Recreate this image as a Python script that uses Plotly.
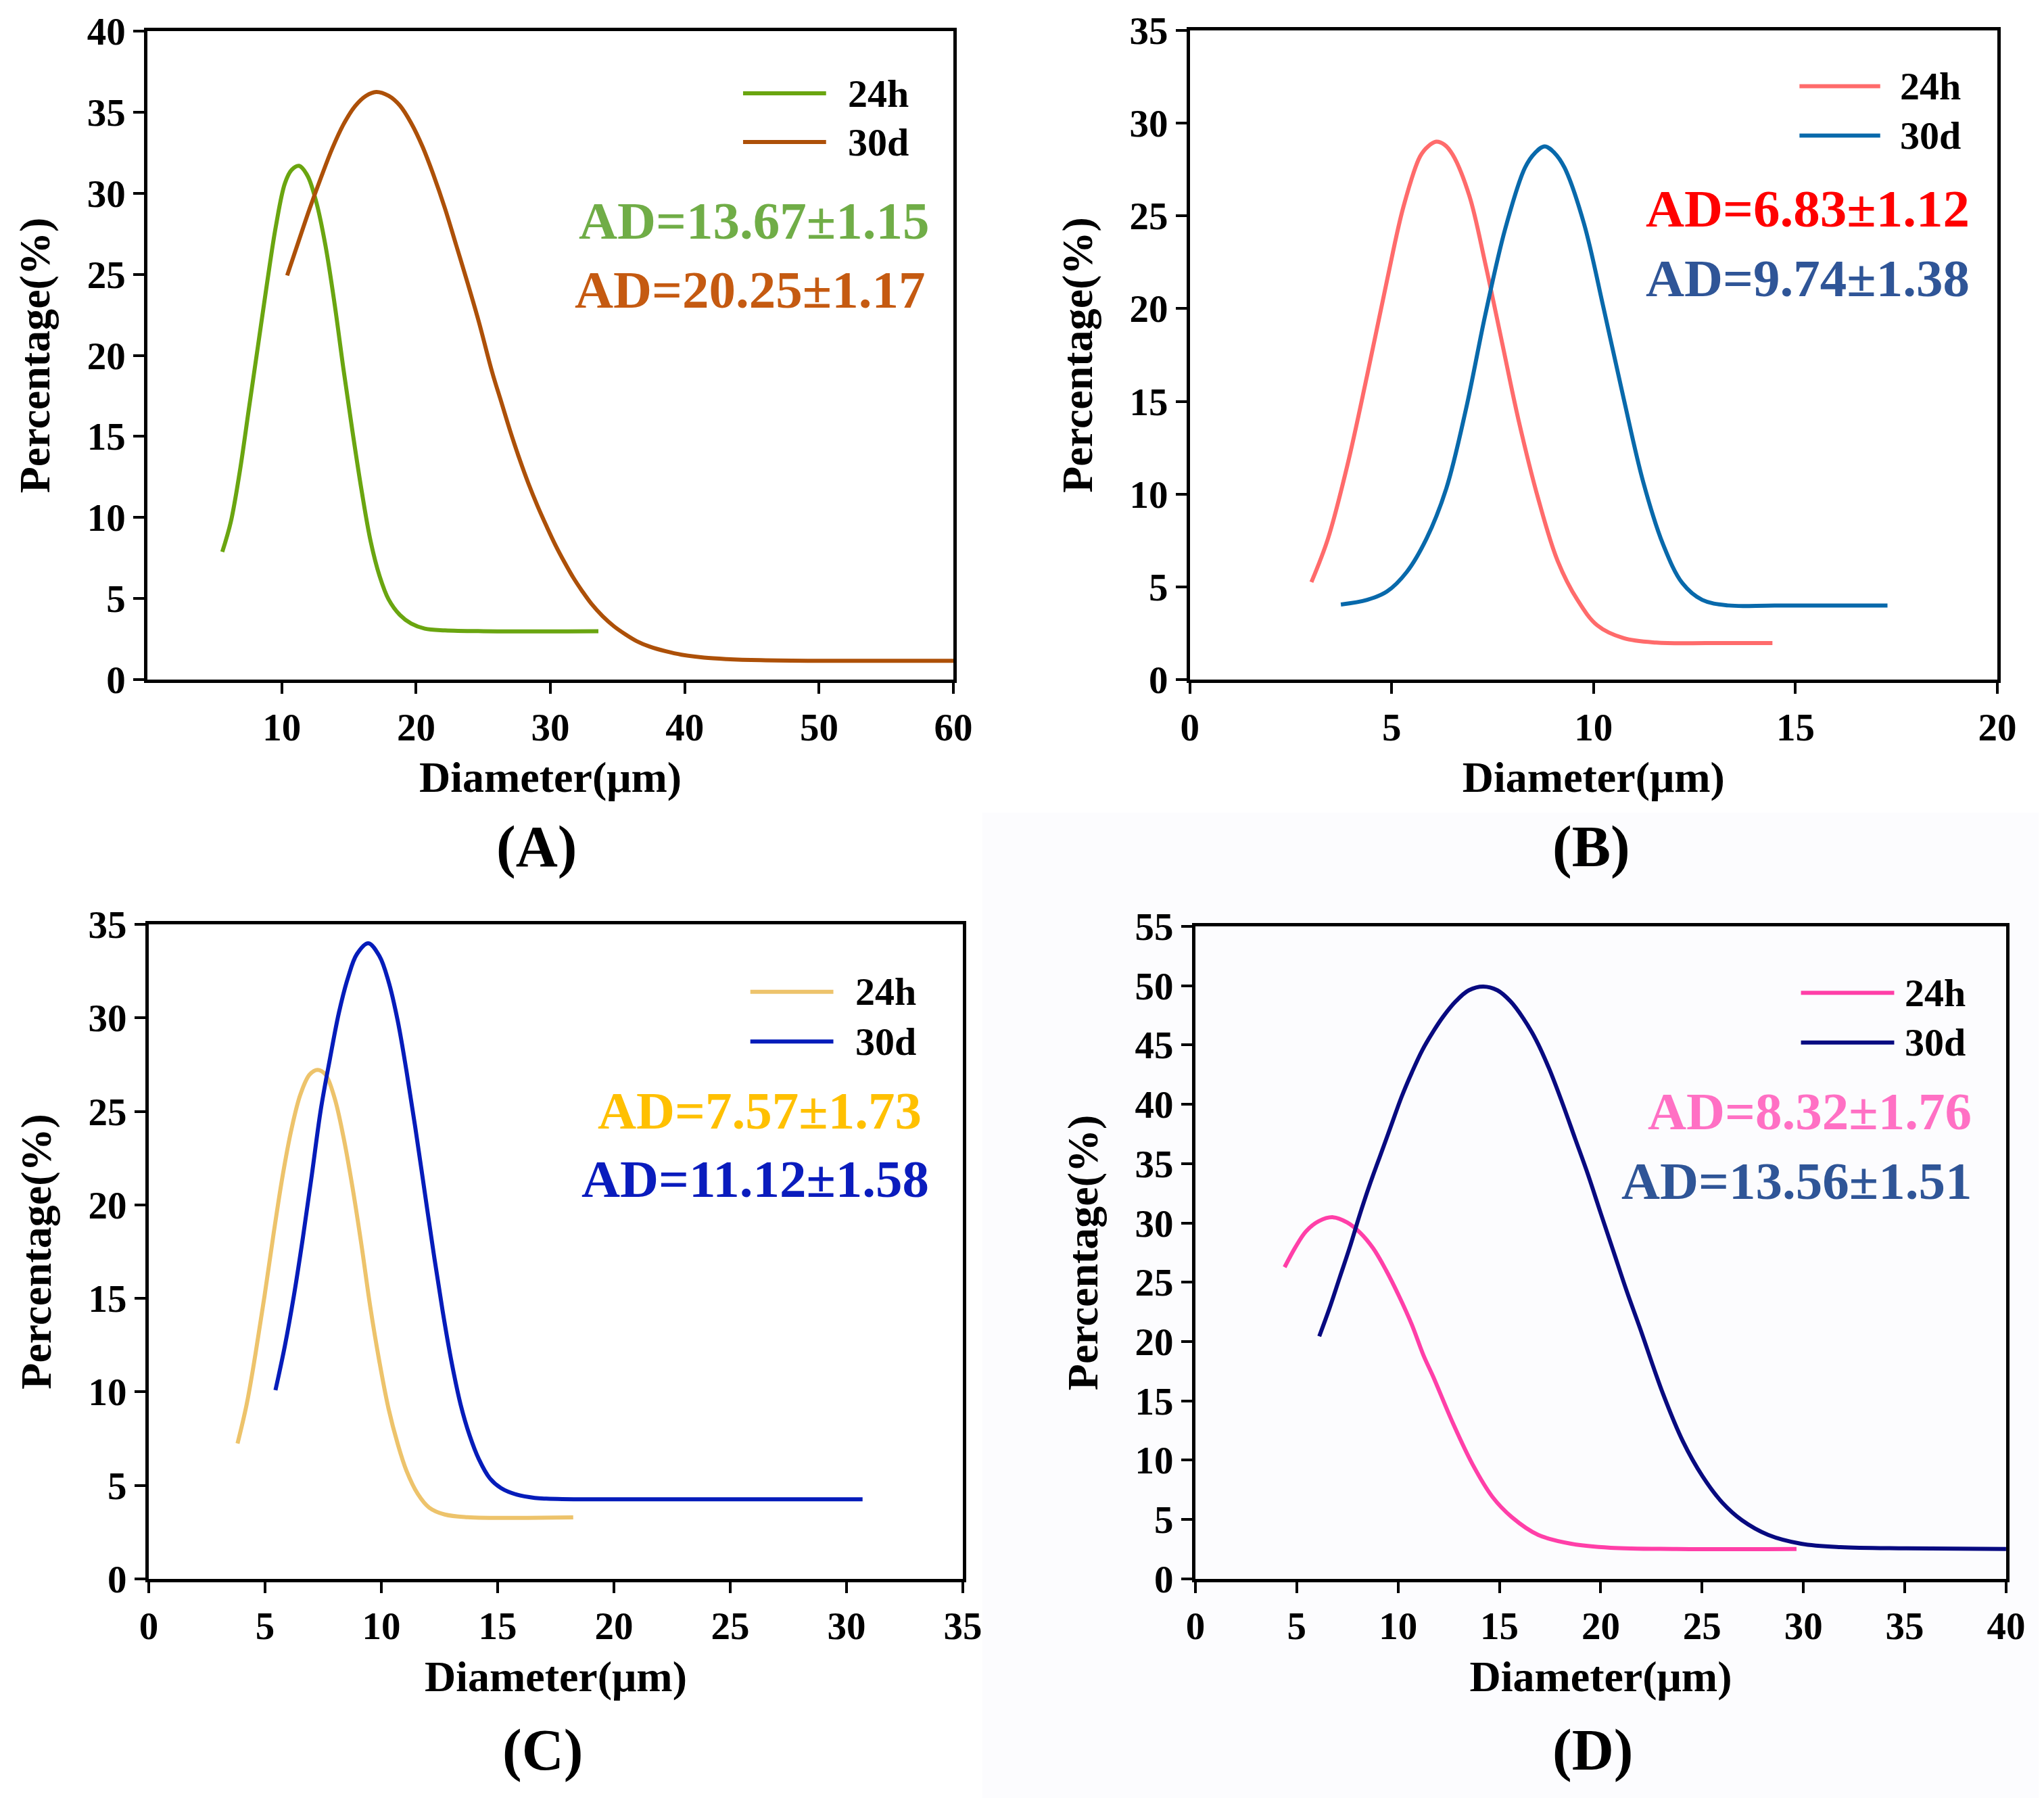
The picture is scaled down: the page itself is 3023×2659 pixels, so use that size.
import plotly.graph_objects as go

# ---------------- data ----------------
A_24h_x = [5.57, 6.21, 6.88, 7.55, 8.22, 8.89, 9.56, 10.23, 10.74, 11.29, 11.91, 12.58, 13.25, 13.93, 14.6, 15.27, 15.94, 16.61, 17.28, 17.95, 18.79, 19.63, 20.64, 22.15, 25.0, 33.57]
A_24h_y = [7.88, 9.75, 12.87, 16.71, 20.54, 24.38, 27.97, 30.61, 31.45, 31.69, 31.09, 29.42, 26.78, 23.18, 19.1, 15.27, 11.67, 8.55, 6.39, 4.95, 3.99, 3.46, 3.15, 3.04, 2.99, 2.99]
A_30d_x = [10.4, 11.24, 12.08, 12.92, 13.76, 14.6, 15.44, 16.27, 17.03, 17.95, 18.79, 19.63, 20.47, 21.31, 22.15, 22.99, 23.82, 24.66, 25.67, 26.34, 27.01, 27.68, 28.35, 29.03, 29.7, 30.37, 31.04, 31.71, 32.38, 33.05, 33.89, 34.73, 35.57, 36.41, 37.41, 38.59, 39.76, 41.44, 43.12, 45.64, 49.83, 60.0]
A_30d_y = [24.93, 27.01, 29.06, 30.97, 32.77, 34.26, 35.36, 36.01, 36.25, 36.01, 35.41, 34.33, 32.89, 31.09, 29.06, 26.78, 24.5, 22.1, 18.94, 17.13, 15.32, 13.65, 12.12, 10.73, 9.48, 8.3, 7.25, 6.28, 5.44, 4.68, 3.91, 3.29, 2.8, 2.38, 2.03, 1.75, 1.54, 1.36, 1.27, 1.2, 1.16, 1.16]

B_24h_x = [3.01, 3.42, 3.9, 4.39, 4.88, 5.29, 5.7, 5.9, 6.1, 6.3, 6.51, 6.92, 7.32, 7.73, 8.14, 8.63, 9.11, 9.6, 10.09, 10.74, 11.55, 12.86, 14.43]
B_24h_y = [5.26, 7.6, 11.55, 16.4, 21.5, 25.5, 28.2, 28.75, 29.0, 28.85, 28.3, 26.1, 22.4, 18.2, 14.0, 9.74, 6.4, 4.3, 2.93, 2.24, 2.0, 1.97, 1.97]
B_30d_x = [3.74, 4.39, 4.88, 5.37, 5.86, 6.35, 6.84, 7.32, 7.81, 8.3, 8.55, 8.79, 9.03, 9.28, 9.76, 10.25, 10.74, 11.23, 11.72, 12.2, 12.69, 13.34, 14.48, 17.28]
B_30d_y = [4.05, 4.3, 4.75, 5.8, 7.6, 10.3, 14.6, 19.7, 24.3, 27.6, 28.4, 28.75, 28.4, 27.6, 24.6, 20.0, 15.2, 10.65, 7.3, 5.2, 4.3, 4.0, 4.0, 4.0]

C_24h_x = [3.82, 4.21, 4.59, 4.98, 5.37, 5.76, 6.14, 6.53, 6.92, 7.26, 7.6, 7.99, 8.37, 8.76, 9.15, 9.53, 9.92, 10.31, 10.7, 11.08, 11.57, 12.06, 12.73, 13.7, 18.25]
C_24h_y = [7.24, 9.32, 12.02, 15.13, 18.46, 21.57, 24.06, 25.93, 26.97, 27.22, 26.97, 25.72, 23.65, 20.95, 17.83, 14.51, 11.6, 9.11, 7.24, 5.79, 4.54, 3.81, 3.44, 3.3, 3.29]
C_30d_x = [5.45, 5.85, 6.24, 6.63, 7.01, 7.4, 7.79, 8.18, 8.57, 8.95, 9.44, 9.92, 10.31, 10.7, 11.08, 11.47, 11.86, 12.25, 12.64, 13.02, 13.41, 13.8, 14.19, 14.67, 15.15, 15.83, 16.6, 17.09, 18.86, 30.69]
C_30d_y = [10.09, 12.43, 15.13, 18.25, 21.57, 25.1, 27.8, 30.29, 32.16, 33.41, 33.99, 33.3, 31.95, 29.88, 27.18, 24.06, 20.74, 17.42, 14.3, 11.6, 9.32, 7.66, 6.41, 5.37, 4.85, 4.5, 4.33, 4.29, 4.25, 4.25]

D_24h_x = [4.4, 4.94, 5.45, 6.09, 6.79, 7.49, 8.13, 8.77, 9.41, 10.05, 10.68, 11.26, 11.73, 12.71, 13.68, 14.65, 15.62, 16.92, 18.54, 20.49, 23.73, 29.66]
D_24h_y = [26.27, 27.97, 29.28, 30.15, 30.48, 30.04, 29.17, 27.86, 26.0, 23.82, 21.42, 18.81, 17.05, 13.1, 9.63, 6.92, 5.19, 3.7, 2.96, 2.62, 2.52, 2.52]
D_30d_x = [6.11, 6.6, 7.11, 7.62, 8.13, 8.64, 9.15, 9.66, 10.17, 10.68, 11.19, 11.71, 12.22, 12.85, 13.49, 14.2, 14.9, 15.54, 16.17, 16.81, 17.45, 18.09, 18.73, 19.37, 20.0, 20.64, 21.28, 21.92, 23.08, 24.05, 25.02, 26.0, 26.97, 28.27, 29.89, 31.83, 35.07, 40.0]
D_30d_y = [20.44, 22.73, 25.35, 27.97, 30.81, 33.42, 35.82, 38.22, 40.62, 42.69, 44.55, 46.07, 47.38, 48.69, 49.61, 49.93, 49.61, 48.69, 47.27, 45.42, 43.02, 40.18, 37.13, 34.08, 30.81, 27.54, 24.26, 21.21, 15.56, 11.6, 8.65, 6.42, 4.94, 3.7, 2.96, 2.67, 2.57, 2.52]

series_names = ["24h", "30d"]
AD_texts = {
    "A": ["AD=13.67±1.15", "AD=20.25±1.17"],
    "B": ["AD=6.83±1.12", "AD=9.74±1.38"],
    "C": ["AD=7.57±1.73", "AD=11.12±1.58"],
    "D": ["AD=8.32±1.76", "AD=13.56±1.51"],
}
x_ranges = {"A": [0, 60], "B": [0, 20], "C": [0, 35], "D": [0, 40]}
y_ranges = {"A": [0, 40], "B": [0, 35], "C": [0, 35], "D": [0, 55]}
x_ticks = {"A": [10, 20, 30, 40, 50, 60], "B": [0, 5, 10, 15, 20],
           "C": [0, 5, 10, 15, 20, 25, 30, 35], "D": [0, 5, 10, 15, 20, 25, 30, 35, 40]}
y_dtick = {"A": 5, "B": 5, "C": 5, "D": 5}

# ---------------- styles ----------------
FONT = "Liberation Serif, Times New Roman, serif"
panels = ["A", "B", "C", "D"]
curves = {
    "A": [(A_24h_x, A_24h_y), (A_30d_x, A_30d_y)],
    "B": [(B_24h_x, B_24h_y), (B_30d_x, B_30d_y)],
    "C": [(C_24h_x, C_24h_y), (C_30d_x, C_30d_y)],
    "D": [(D_24h_x, D_24h_y), (D_30d_x, D_30d_y)],
}
line_colors = {"A": ["#6aa510", "#ad5008"], "B": ["#ff6b6b", "#0869ab"],
               "C": ["#edc36b", "#051cba"], "D": ["#ff3fa8", "#080a80"]}
ad_colors = {"A": ["#70ad47", "#c55a11"], "B": ["#ff0000", "#2f5597"],
             "C": ["#ffc000", "#0a1cbd"], "D": ["#ff70c4", "#2f5597"]}
xdom = {"A": [0.0695, 0.4638], "B": [0.5795, 0.9745], "C": [0.0701, 0.4684], "D": [0.5822, 0.9788]}
ydom = {"A": [0.6250, 0.9857], "B": [0.6250, 0.9861], "C": [0.1249, 0.4889], "D": [0.1249, 0.4878]}
leg_x = {"A": (0.739, 0.842, 0.867), "B": (0.755, 0.855, 0.878),
         "C": (0.739, 0.841, 0.866), "D": (0.747, 0.862, 0.873)}
leg_y = {"A": (0.904, 0.829), "B": (0.914, 0.838), "C": (0.897, 0.821), "D": (0.898, 0.822)}
ad_pos = {"A": (0.971, 0.708, 0.966, 0.601), "B": (0.967, 0.726, 0.967, 0.618),
          "C": (0.951, 0.715, 0.960, 0.611), "D": (0.959, 0.717, 0.959, 0.610)}
label_pos = {"A": (0.2597, 0.532), "B": (0.776, 0.532), "C": (0.2627, 0.0297), "D": (0.7767, 0.0297)}

fig = go.Figure()
layout = dict(
    width=3023, height=2659,
    margin=dict(l=0, r=0, t=0, b=0),
    paper_bgcolor="white", plot_bgcolor="white",
    font=dict(family=FONT, color="black"),
    showlegend=False,
)
shapes = [dict(type="rect", xref="paper", yref="paper", x0=0.478, x1=1.0, y0=0.0, y1=0.551,
               fillcolor="#fcfcfe", line=dict(width=0), layer="below")]
annotations = []

for i, p in enumerate(panels):
    n = "" if i == 0 else str(i + 1)
    xa, ya = "x" + n, "y" + n
    for j, (xs, ys) in enumerate(curves[p]):
        fig.add_trace(go.Scatter(x=xs, y=ys, mode="lines", name=series_names[j],
                                 line=dict(color=line_colors[p][j], width=6, shape="spline", smoothing=1.0),
                                 xaxis=xa, yaxis=ya))
    axis_common = dict(showline=True, linecolor="black", linewidth=5, mirror=True,
                       ticks="outside", ticklen=16, tickwidth=4, tickcolor="black",
                       showgrid=False, zeroline=False,
                       tickfont=dict(family=FONT, size=57, color="black", weight="bold"))
    layout["xaxis" + n] = dict(axis_common, domain=xdom[p], range=x_ranges[p], anchor=ya,
                               tickvals=x_ticks[p], ticktext=[str(v) for v in x_ticks[p]],
                               title=dict(text="Diameter(μm)", font=dict(family=FONT, size=64, weight="bold"), standoff=22),
                               automargin=False)
    layout["yaxis" + n] = dict(axis_common, domain=ydom[p], range=y_ranges[p], anchor=xa,
                               dtick=y_dtick[p], tick0=0,
                               title=dict(text="Percentage(%)", font=dict(family=FONT, size=64, weight="bold"), standoff=36),
                               automargin=False)
    xr, yr = xa + " domain", ya + " domain"
    lx0, lx1, ltx = leg_x[p]
    for j in range(2):
        shapes.append(dict(type="line", xref=xr, yref=yr, x0=lx0, x1=lx1, y0=leg_y[p][j], y1=leg_y[p][j],
                           line=dict(color=line_colors[p][j], width=6)))
        annotations.append(dict(xref=xr, yref=yr, x=ltx, y=leg_y[p][j], xanchor="left", yanchor="middle",
                                text="<b>%s</b>" % series_names[j], showarrow=False,
                                font=dict(family=FONT, size=58, color="black")))
    ax1, ay1, ax2, ay2 = ad_pos[p]
    for j, (axx, ayy) in enumerate([(ax1, ay1), (ax2, ay2)]):
        annotations.append(dict(xref=xr, yref=yr, x=axx, y=ayy, xanchor="right", yanchor="middle",
                                text="<b>%s</b>" % AD_texts[p][j], showarrow=False,
                                font=dict(family=FONT, size=79, color=ad_colors[p][j])))
    lpx, lpy = label_pos[p]
    annotations.append(dict(xref="paper", yref="paper", x=lpx, y=lpy, xanchor="center", yanchor="middle",
                            text="<b>(%s)</b>" % p, showarrow=False,
                            font=dict(family=FONT, size=86, color="black")))

layout["shapes"] = shapes
layout["annotations"] = annotations
fig.update_layout(**layout)
fig.write_html("out.html")
